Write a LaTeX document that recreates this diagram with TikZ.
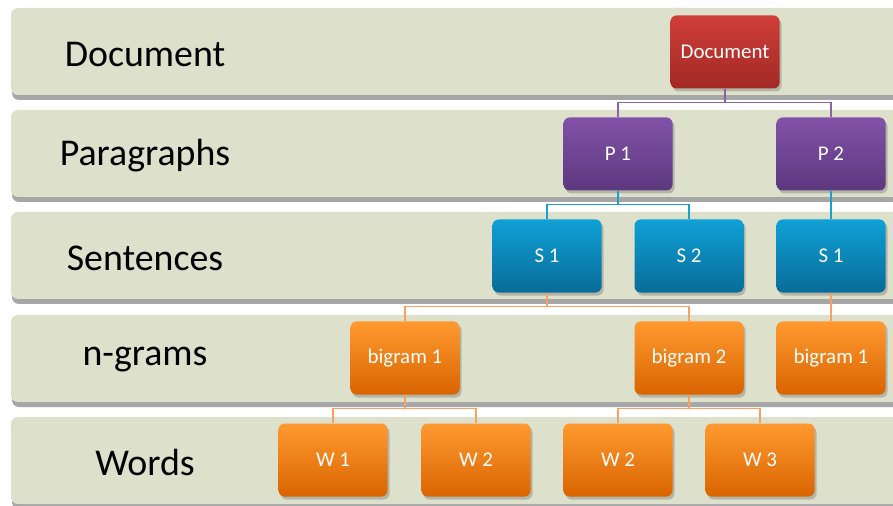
\documentclass[tikz,border=0pt]{standalone}
\usepackage{fontspec}
\setmainfont{Carlito}
\usetikzlibrary{shadows,calc}
\definecolor{bandfill}{HTML}{DDE1CB}
\definecolor{bandshadow}{HTML}{A6A6A6}
\definecolor{redtop}{HTML}{CF3E38}
\definecolor{redbot}{HTML}{A22925}
\definecolor{purtop}{HTML}{8252A8}
\definecolor{purbot}{HTML}{5C387E}
\definecolor{blutop}{HTML}{0EA0D6}
\definecolor{blubot}{HTML}{096C98}
\definecolor{oratop}{HTML}{FF9A30}
\definecolor{orabot}{HTML}{D96400}
\definecolor{purline}{HTML}{8A62A8}
\definecolor{bluline}{HTML}{1AA0CF}
\definecolor{oraline}{HTML}{F7A060}
\tikzset{
  band/.style={fill=bandfill, rounded corners=7bp},
  bandsh/.style={fill=bandshadow, rounded corners=7bp},
  levellabel/.style={font=\fontsize{38}{42}\selectfont, text=black, anchor=center},
  box/.style={rounded corners=6bp, minimum width=109bp, minimum height=73bp, text=white,
    font=\fontsize{21}{24}\selectfont, inner sep=0pt,
    drop shadow={shadow xshift=2bp, shadow yshift=-3bp, opacity=0.35, fill=black!60}},
  redbox/.style={box, top color=redtop, bottom color=redbot},
  purbox/.style={box, top color=purtop, bottom color=purbot},
  blubox/.style={box, top color=blutop, bottom color=blubot},
  orabox/.style={box, top color=oratop, bottom color=orabot},
  purlink/.style={draw=purline, line width=1.4bp},
  blulink/.style={draw=bluline, line width=1.4bp},
  oralink/.style={draw=oraline, line width=1.4bp},
}
\begin{document}
\begin{tikzpicture}[x=1bp,y=-1bp]
\useasboundingbox (0,0) rectangle (893,506);
\clip (0,0) rectangle (893,506);
\fill[white] (0,0) rectangle (893,506);
% bands
\foreach \t in {8,110,212,315,417}{
  \fill[bandsh] (12,\t+6) rectangle (910,\t+92);
  \fill[band] (11,\t) rectangle (910,\t+87);
}
% level labels
\node[levellabel] (lDoc) at (145,54) {Document};
\node[levellabel] (lPar) at (145,156) {Paragraphs};
\node[levellabel] (lSen) at (145,258) {Sentences};
\node[levellabel] (lNg) at (145,360) {n-grams};
\node[levellabel] (lW) at (145,462) {Words};
% nodes
\node[redbox] (doc) at (725,52) {Document};
\node[purbox] (p1) at (618,154) {P 1};
\node[purbox] (p2) at (831,154) {P 2};
\node[blubox] (s1) at (547,256) {S 1};
\node[blubox] (s2) at (689,256) {S 2};
\node[blubox] (s1b) at (831,256) {S 1};
\node[orabox] (b1) at (405,358) {bigram 1};
\node[orabox] (b2) at (689,358) {bigram 2};
\node[orabox] (b1b) at (831,358) {bigram 1};
\node[orabox] (w1) at (333,460) {W 1};
\node[orabox] (w2) at (476,460) {W 2};
\node[orabox] (w2b) at (618,460) {W 2};
\node[orabox] (w3) at (760,460) {W 3};
% connectors
\coordinate (jd) at ($(doc.south)+(0,14)$);
\draw[purlink] (doc.south) -- (jd) -| (p1.north);
\draw[purlink] (jd) -| (p2.north);
\coordinate (jp) at ($(p1.south)+(0,14)$);
\draw[blulink] (p1.south) -- (jp) -| (s1.north);
\draw[blulink] (jp) -| (s2.north);
\draw[blulink] (p2.south) -- (s1b.north);
\coordinate (js) at ($(s1.south)+(0,14)$);
\draw[oralink] (s1.south) -- (js) -| (b1.north);
\draw[oralink] (js) -| (b2.north);
\draw[oralink] (s1b.south) -- (b1b.north);
\coordinate (jb1) at ($(b1.south)+(0,14)$);
\draw[oralink] (b1.south) -- (jb1) -| (w1.north);
\draw[oralink] (jb1) -| (w2.north);
\coordinate (jb2) at ($(b2.south)+(0,14)$);
\draw[oralink] (b2.south) -- (jb2) -| (w2b.north);
\draw[oralink] (jb2) -| (w3.north);
\end{tikzpicture}
\end{document}
